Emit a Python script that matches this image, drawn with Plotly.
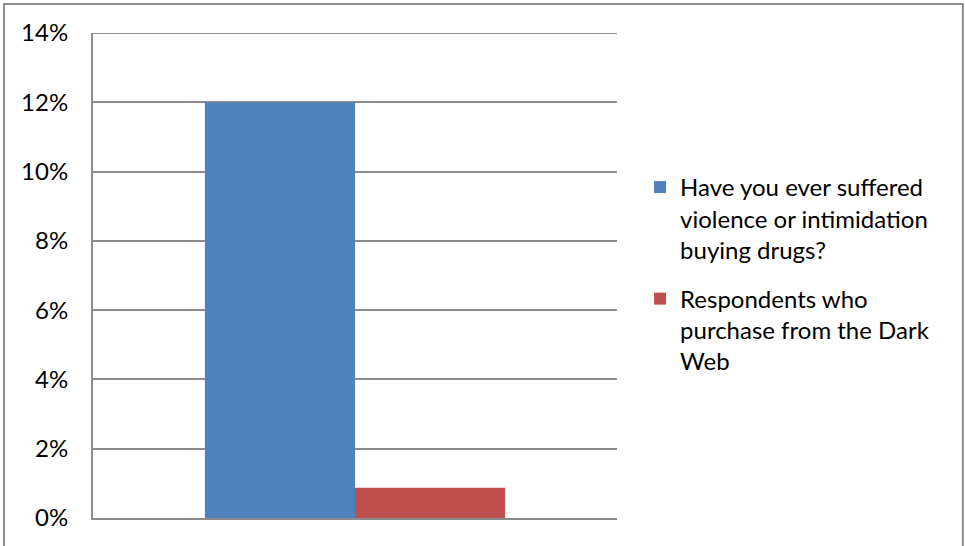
import plotly.graph_objects as go

categories = [""]
series_names = [
    "Have you ever suffered<br>violence or intimidation<br>buying drugs?",
    "Respondents who<br>purchase from the Dark<br>Web",
]
violence_values = [0.12]
darkweb_values = [0.0087]
colors = ["#4F81BD", "#C0504D"]
y_ticks = [0, 0.02, 0.04, 0.06, 0.08, 0.10, 0.12, 0.14]
y_tick_labels = ["0%", "2%", "4%", "6%", "8%", "10%", "12%", "14%"]

fig = go.Figure()
fig.add_trace(go.Bar(x=categories, y=violence_values, name=series_names[0],
                     legendgroup="a",
                     marker=dict(color=colors[0], line=dict(width=0))))
fig.add_trace(go.Bar(x=categories, y=darkweb_values, name=series_names[1],
                     legendgroup="b",
                     marker=dict(color=colors[1], line=dict(width=0))))

fig.update_layout(
    width=965, height=546,
    margin=dict(l=93, r=348, t=33, b=28),
    paper_bgcolor="white", plot_bgcolor="white",
    barmode="group", bargap=0.427, bargroupgap=0,
    font=dict(family="Lato, Noto Sans, sans-serif", size=24, color="black"),
    legend=dict(x=1.044, y=0.728, xanchor="left", yanchor="top",
                font=dict(size=24), tracegroupgap=15, valign="top",
                bgcolor="rgba(0,0,0,0)"),
    showlegend=True,
    xaxis=dict(showticklabels=False, showline=True, linecolor="#8c8c8c", linewidth=2,
               showgrid=False, zeroline=False, fixedrange=True),
    yaxis=dict(range=[0, y_ticks[-1]], tickvals=y_ticks, ticktext=y_tick_labels,
               showline=True, linecolor="#8c8c8c", linewidth=2,
               showgrid=True, gridcolor="#8c8c8c", gridwidth=2,
               zeroline=False, ticks="", ticklabelstandoff=18),
    shapes=[
        dict(type="line", xref="paper", yref="y", x0=0, x1=1,
             y0=y_ticks[-1], y1=y_ticks[-1], line=dict(color="#8c8c8c", width=2)),
        dict(type="rect", xref="paper", yref="paper",
             x0=-0.1698, x1=1.660, y0=-0.1, y1=1.0598,
             line=dict(color="#8c8c8c", width=2), fillcolor="rgba(0,0,0,0)"),
    ],
)

fig.write_html("out.html", config={"displayModeBar": False},
               post_script="document.body.style.margin='0';")
